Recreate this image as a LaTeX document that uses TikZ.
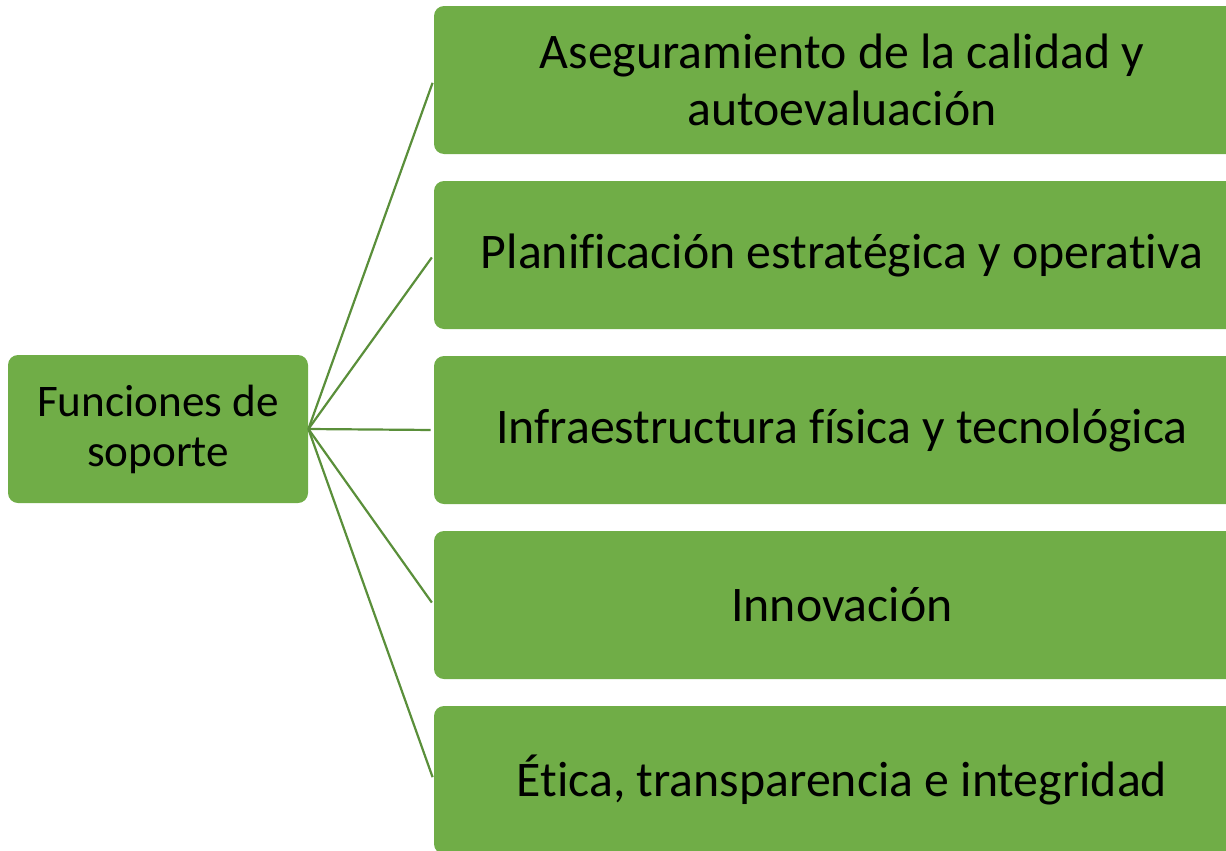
\documentclass[tikz,border=0pt]{standalone}
\usepackage{fontspec}
\setmainfont{Carlito}[Ligatures=NoCommon]
\usepackage{tikz}
\usetikzlibrary{positioning}
\definecolor{boxgreen}{HTML}{70AD47}
\definecolor{linegreen}{HTML}{5A8F3A}
\tikzset{
  supbox/.style={draw=none, fill=boxgreen, rounded corners=5pt, minimum width=150pt, minimum height=74pt, align=center, font=\fontsize{22.6}{25}\selectfont},
  funbox/.style={draw=none, fill=boxgreen, rounded corners=5pt, minimum width=408pt, minimum height=74pt, align=center, font=\fontsize{24.9}{28.5}\selectfont},
  link/.style={draw=linegreen, line width=1.1pt, shorten >=1.5pt}
}
\begin{document}
\begin{tikzpicture}[x=0.5pt,y=-0.5pt]
\useasboundingbox (0,0) rectangle (1226,851);
\clip (0,0) rectangle (1226,851);
\node[supbox] (sup) at (158,429) {Funciones de\\soporte};
\node[funbox] (f1) at (842,80) {Aseguramiento de la calidad y\\autoevaluación};
\node[funbox] (f2) at (842,255) {Planificación estratégica y operativa};
\node[funbox] (f3) at (842,430) {Infraestructura física y tecnológica};
\node[funbox] (f4) at (842,605) {Innovación};
\node[funbox] (f5) at (842,780) {Ética, transparencia e integridad};
\foreach \f in {f1,f2,f3,f4,f5} {
\draw[link] (sup.east) -- (\f.west);
}
\end{tikzpicture}
\end{document}
